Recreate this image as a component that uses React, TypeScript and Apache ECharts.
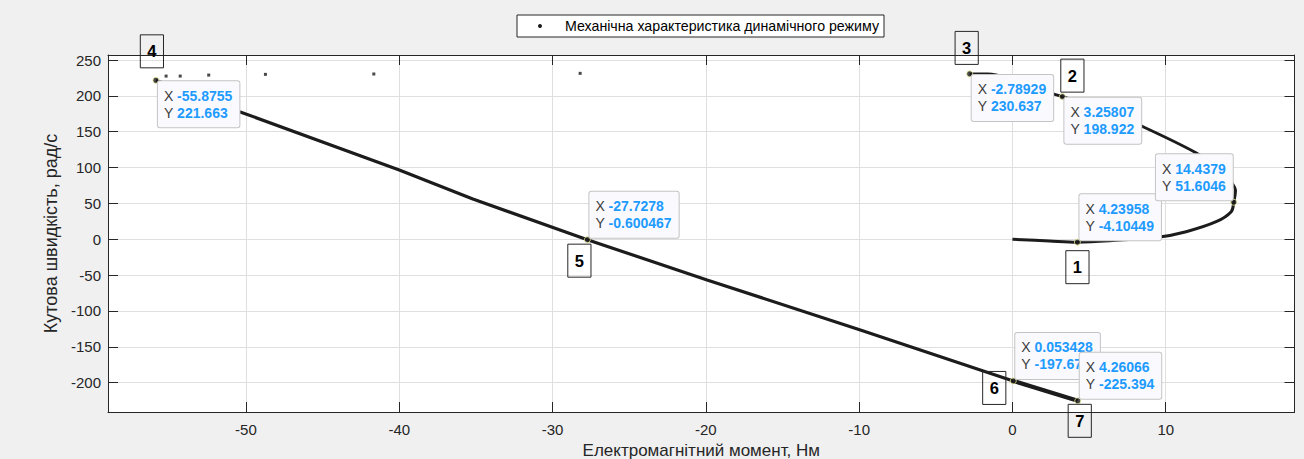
import React, { useEffect, useRef } from 'react';
import * as echarts from 'echarts';

const SERIES_NAME = 'Механічна характеристика динамічного режиму';
const X_NAME = 'Електромагнітний момент, Нм';
const Y_NAME = 'Кутова швидкість, рад/с';

const xRange = [-59, 18.4];
const yRange = [-241, 257];

// start-up loop
const loopTorque = [0, 2.41, 4.23958, 7.0, 9.48, 11.33, 13.29, 14.27, 14.4379, 14.55, 14.33, 14.0, 13.2, 11.97, 8.28, 7.0, 5.5, 3.25807, 2.41, 1.2, 0.0, -1.61, -2.78929];
const loopSpeed = [0, -2.5, -4.10449, -1.2, 2.7, 10.5, 24.4, 38.4, 51.6046, 68.6, 78, 88, 102, 120.7, 159.3, 170, 183, 198.922, 204.3, 214, 223, 230.4, 230.637];

// sparse points of the fast transition
const jumpTorque = [-28.2, -41.66, -48.73, -52.43, -54.29, -55.21];
const jumpSpeed = [231.4, 230.5, 230, 229, 227.6, 227.6];

// braking / reverse line
const brakeTorque = [-55.8755, -50.42, -40.0, -35.2, -27.7278, -19.92, -9.92, 0.053428];
const brakeSpeed = [221.663, 178, 96.5, 56, -0.600467, -56.9, -126.5, -197.67];
const tailTorque = [0.053428, 4.26066];
const tailSpeed = [-197.67, -225.394];

// data tips
const tipTorque = [4.23958, 3.25807, -2.78929, -55.8755, -27.7278, 0.053428, 4.26066, 14.4379];
const tipSpeed = [-4.10449, 198.922, 230.637, 221.663, -0.600467, -197.67, -225.394, 51.6046];
const tipNumbers = ['1', '2', '3', '4', '5', '6', '7', ''];

// styling of the annotations (placement relative to the tip point)
const tipCorner = ['ur', 'lr', 'lr', 'lr', 'ur', 'ur', 'ur', 'ul'];
const numberOffset: (number[] | null)[] = [[0, 25], [10, -21], [-3, -26], [-4, -29], [-8, 21], [-19, 7], [2, 20], null];

const FONT = "'Liberation Sans', Arial, Helvetica, sans-serif";
const AX = '#262626';
const LINE = '#1c1c1c';

const zip = (a: number[], b: number[]) => a.map((v, i) => [v, b[i]]);

const fmt = (v: number) => {
  let s = v.toPrecision(6);
  if (s.includes('.') && !s.includes('e')) s = s.replace(/0+$/, '').replace(/\.$/, '');
  return s;
};

const multipleOf = (step: number) => (v: number) =>
  Math.abs(v / step - Math.round(v / step)) < 1e-6 ? String(Math.round(v)) : '';

function makeXAxis(bottom: boolean): any {
  return {
    type: 'value',
    min: xRange[0],
    max: xRange[1],
    splitNumber: 8,
    position: bottom ? 'bottom' : 'top',
    name: bottom ? X_NAME : '',
    nameLocation: 'middle',
    nameGap: 25,
    nameTextStyle: { fontSize: 17, lineHeight: 17, color: AX, fontFamily: FONT },
    axisLine: { show: true, onZero: false, lineStyle: { color: AX, width: 1 } },
    axisTick: { show: true, inside: true, length: 10, lineStyle: { color: AX, width: 1 } },
    axisLabel: {
      show: bottom,
      margin: 10,
      fontSize: 15,
      color: AX,
      fontFamily: FONT,
      formatter: multipleOf(10),
    },
    splitLine: { show: bottom, lineStyle: { color: '#dfdfdf', width: 1 } },
  };
}

function makeYAxis(left: boolean): any {
  return {
    type: 'value',
    min: yRange[0],
    max: yRange[1],
    splitNumber: 10,
    position: left ? 'left' : 'right',
    name: left ? Y_NAME : '',
    nameLocation: 'middle',
    nameRotate: 90,
    nameGap: 38,
    nameTextStyle: { fontSize: 18, lineHeight: 18, color: AX, fontFamily: FONT },
    axisLine: { show: true, onZero: false, lineStyle: { color: AX, width: 1 } },
    axisTick: { show: true, inside: true, length: 10, lineStyle: { color: AX, width: 1 } },
    axisLabel: {
      show: left,
      margin: 7,
      fontSize: 15,
      color: AX,
      fontFamily: FONT,
      formatter: multipleOf(50),
    },
    splitLine: { show: left, lineStyle: { color: '#dfdfdf', width: 1 } },
  };
}

function buildOption(): any {
  const lineSeries = (data: number[][], width: number, smooth: number | boolean) => ({
    name: SERIES_NAME,
    type: 'line',
    data,
    xAxisIndex: 0,
    yAxisIndex: 0,
    showSymbol: false,
    symbol: 'circle',
    symbolSize: 4,
    smooth,
    lineStyle: { color: LINE, width },
    itemStyle: { color: LINE },
    silent: true,
    z: 3,
  });
  return {
    animation: false,
    backgroundColor: '#f0f0f0',
    textStyle: { fontFamily: FONT },
    grid: {
      left: 108,
      right: 9.5,
      top: 55,
      bottom: 47,
      show: true,
      backgroundColor: '#ffffff',
      borderWidth: 0,
      containLabel: false,
      outerBoundsMode: 'none',
    },
    legend: {
      show: true,
      left: 517,
      top: 15,
      data: [{ name: SERIES_NAME, icon: 'circle' }],
      itemWidth: 4,
      itemHeight: 4,
      padding: [4, 5, 4, 21],
      backgroundColor: '#ffffff',
      borderColor: AX,
      borderWidth: 1,
      borderRadius: 0,
      selectedMode: false,
      textStyle: { fontSize: 14.2, color: '#000000', fontFamily: FONT, padding: [0, 0, 0, 18], lineHeight: 14 },
    },
    xAxis: [makeXAxis(true), makeXAxis(false)],
    yAxis: [makeYAxis(true), makeYAxis(false)],
    series: [
      lineSeries(zip(loopTorque, loopSpeed), 3, 0.35),
      lineSeries(zip(brakeTorque, brakeSpeed), 3.2, false),
      lineSeries(zip(tailTorque, tailSpeed), 4.2, false),
      {
        name: SERIES_NAME,
        type: 'scatter',
        data: zip(jumpTorque, jumpSpeed),
        symbol: 'rect',
        symbolSize: 3,
        itemStyle: { color: LINE },
        silent: true,
        z: 3,
      },
      {
        name: 'tips',
        type: 'scatter',
        data: zip(tipTorque, tipSpeed),
        symbol: 'circle',
        symbolSize: 6,
        itemStyle: { color: '#1a1a1a', borderColor: '#eeee99', borderWidth: 1 },
        silent: true,
        z: 5,
      },
    ],
  };
}

function buildGraphics(chart: echarts.ECharts): any[] {
  const out: any[] = [];
  tipTorque.forEach((x, i) => {
    const p = chart.convertToPixel({ xAxisIndex: 0, yAxisIndex: 0 }, [x, tipSpeed[i]]) as number[];
    const c = tipCorner[i];
    let gx = p[0] + 2;
    let gy = p[1] - 2;
    let align = 'left';
    let valign = 'bottom';
    if (c === 'lr') { gy = p[1] + 1; valign = 'top'; }
    if (c === 'ul') { gx = p[0] - 1; align = 'right'; }
    out.push({
      type: 'text',
      x: gx,
      y: gy,
      z: 100 + i,
      silent: true,
      style: {
        text: `{l|X} {v|${fmt(x)}}\n{l|Y} {v|${fmt(tipSpeed[i])}}`,
        rich: {
          l: { fill: '#3c3c3c', fontSize: 14, fontFamily: FONT, lineHeight: 17 },
          v: { fill: '#1e9bff', fontSize: 14, fontFamily: FONT, fontWeight: 'bold', lineHeight: 17 },
        },
        fontSize: 14,
        fontFamily: FONT,
        lineHeight: 17,
        fill: '#3c3c3c',
        backgroundColor: '#fafafe',
        borderColor: '#c4c4c4',
        borderWidth: 1,
        borderRadius: 2,
        padding: [6, 7, 6, 6],
        align,
        textAlign: align,
        verticalAlign: valign,
        textVerticalAlign: valign,
      },
    });
  });
  tipTorque.forEach((x, i) => {
    const off = numberOffset[i];
    if (!off || !tipNumbers[i]) return;
    const p = chart.convertToPixel({ xAxisIndex: 0, yAxisIndex: 0 }, [x, tipSpeed[i]]) as number[];
    out.push({
      type: 'text',
      x: p[0] + off[0],
      y: p[1] + off[1],
      z: 120 + i,
      silent: true,
      style: {
        text: tipNumbers[i],
        fontSize: 16.5,
        fontWeight: 'bold',
        fontFamily: FONT,
        lineHeight: 17,
        fill: '#000000',
        borderColor: AX,
        borderWidth: 1,
        padding: [8, 7, 8, 7],
        align: 'center',
        textAlign: 'center',
        verticalAlign: 'middle',
        textVerticalAlign: 'middle',
      },
    });
  });
  return out;
}

export default function App() {
  const ref = useRef<HTMLDivElement>(null);
  useEffect(() => {
    if (!ref.current) return;
    const chart = echarts.init(ref.current, null, { renderer: 'svg' });
    chart.setOption(buildOption());
    chart.setOption({ graphic: buildGraphics(chart) });
    return () => chart.dispose();
  }, []);
  return (
    <div
      ref={ref}
      style={{ position: 'absolute', left: 0, top: 0, width: 1304, height: 459 }}
    />
  );
}
